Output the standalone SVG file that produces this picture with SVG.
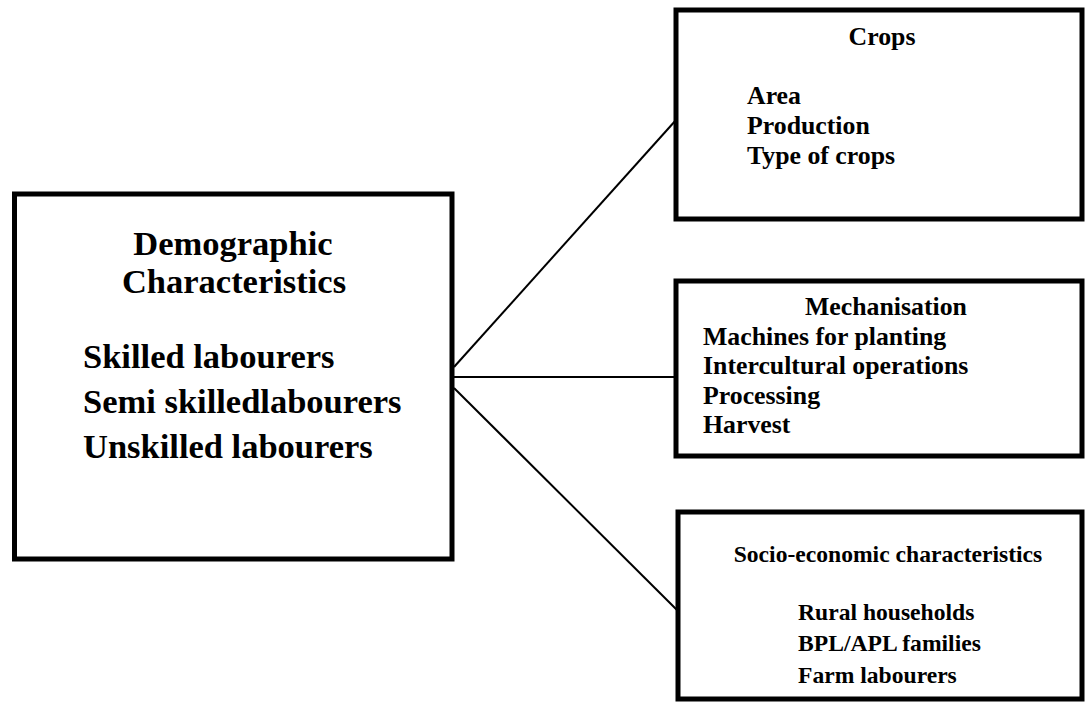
<svg xmlns="http://www.w3.org/2000/svg" width="1085" height="705" viewBox="0 0 1085 705">
  <style>
    .box { fill: #ffffff; stroke: #000000; stroke-width: 5; }
    .link { stroke: #000000; stroke-width: 2; fill: none; }
    text { font-family: "Liberation Serif", "Times New Roman", serif; font-weight: bold; fill: #000000; }
    .big { font-size: 34.5px; }
    .mid { font-size: 25.8px; }
    .small { font-size: 23.6px; }
    .c { text-anchor: middle; }
  </style>
  <rect width="1085" height="705" fill="#ffffff"/>

  <!-- connectors from the central box to the three factor boxes -->
  <g id="connectors">
    <line class="link" x1="454" y1="367" x2="676" y2="120"/>
    <line class="link" x1="454" y1="377" x2="676" y2="377"/>
    <line class="link" x1="454" y1="388" x2="678" y2="611"/>
  </g>

  <g id="demographic">
    <rect class="box" x="14.5" y="194" width="437.5" height="365"/>
    <text class="big c" x="233" y="255">Demographic</text>
    <text class="big c" x="234" y="293">Characteristics</text>
    <text class="big" x="83" y="368">Skilled labourers</text>
    <text class="big" x="83" y="413">Semi skilledlabourers</text>
    <text class="big" x="83" y="458">Unskilled labourers</text>
  </g>

  <g id="crops">
    <rect class="box" x="676" y="10" width="406" height="209"/>
    <text class="mid c" x="882" y="45">Crops</text>
    <text class="mid" x="747" y="104">Area</text>
    <text class="mid" x="747" y="134">Production</text>
    <text class="mid" x="747" y="164">Type of crops</text>
  </g>

  <g id="mechanisation">
    <rect class="box" x="676" y="281" width="406" height="175"/>
    <text class="mid c" x="886" y="315">Mechanisation</text>
    <text class="mid" x="703" y="345">Machines for planting</text>
    <text class="mid" x="703" y="374">Intercultural operations</text>
    <text class="mid" x="703" y="404">Processing</text>
    <text class="mid" x="703" y="433">Harvest</text>
  </g>

  <g id="socio-economic">
    <rect class="box" x="678" y="512" width="404" height="187"/>
    <text class="small c" x="888" y="562">Socio-economic characteristics</text>
    <text class="small" x="798" y="620">Rural households</text>
    <text class="small" x="798" y="651">BPL/APL families</text>
    <text class="small" x="798" y="683">Farm labourers</text>
  </g>
</svg>
